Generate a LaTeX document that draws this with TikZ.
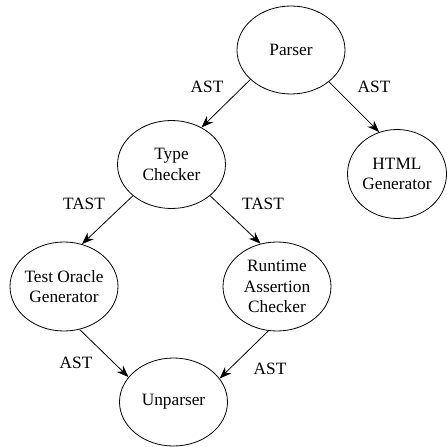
\documentclass[tikz,border=0pt]{standalone}
\usepackage{fontspec}
\setmainfont{Liberation Serif}
\usetikzlibrary{shapes.geometric,arrows.meta}
\begin{document}
\begin{tikzpicture}[x=1pt,y=1pt,
  every node/.style={font=\fontsize{17.3}{20.5}\selectfont},
  proc/.style={draw,ellipse,line width=0.8pt,inner sep=0pt,minimum width=108pt,minimum height=88pt},
  txt/.style={label={[align=center,inner sep=0pt]center:#1}},
  flow/.style={line width=0.8pt,-{Stealth[length=12pt,width=9pt]}},
  lbl/.style={inner sep=0pt}]
\useasboundingbox (0,0) rectangle (447,-447);
\node[proc,txt={Parser}] (parser) at (291,-50) {};
\node[proc,txt={Type\\Checker}] (tc) at (171.5,-164.5) {};
\node[proc,minimum width=99pt,minimum height=89pt,txt={HTML\\Generator}] (html) at (397,-174) {};
\node[proc,minimum height=89pt,txt={Test Oracle\\Generator}] (to) at (64,-286.5) {};
\node[proc,minimum height=89pt,txt={Runtime\\Assertion\\Checker}] (rac) at (277,-286.5) {};
\node[proc,txt={Unparser}] (up) at (173.5,-402) {};
\draw[flow] (parser.216) -- (tc.51);
\draw[flow] (parser.320) -- (html.113);
\draw[flow] (tc.219) -- (to.67);
\draw[flow] (tc.321) -- (rac.111);
\draw[flow] (to.290) -- (up.151);
\draw[flow] (rac.259) -- (up.27);
\node[lbl] (l1) at (207,-87) {AST};
\node[lbl] (l2) at (374,-87) {AST};
\node[lbl] (l3) at (84,-204) {TAST};
\node[lbl] (l4) at (263,-204) {TAST};
\node[lbl] (l5) at (76,-363) {AST};
\node[lbl] (l6) at (270,-369) {AST};
\end{tikzpicture}
\end{document}
